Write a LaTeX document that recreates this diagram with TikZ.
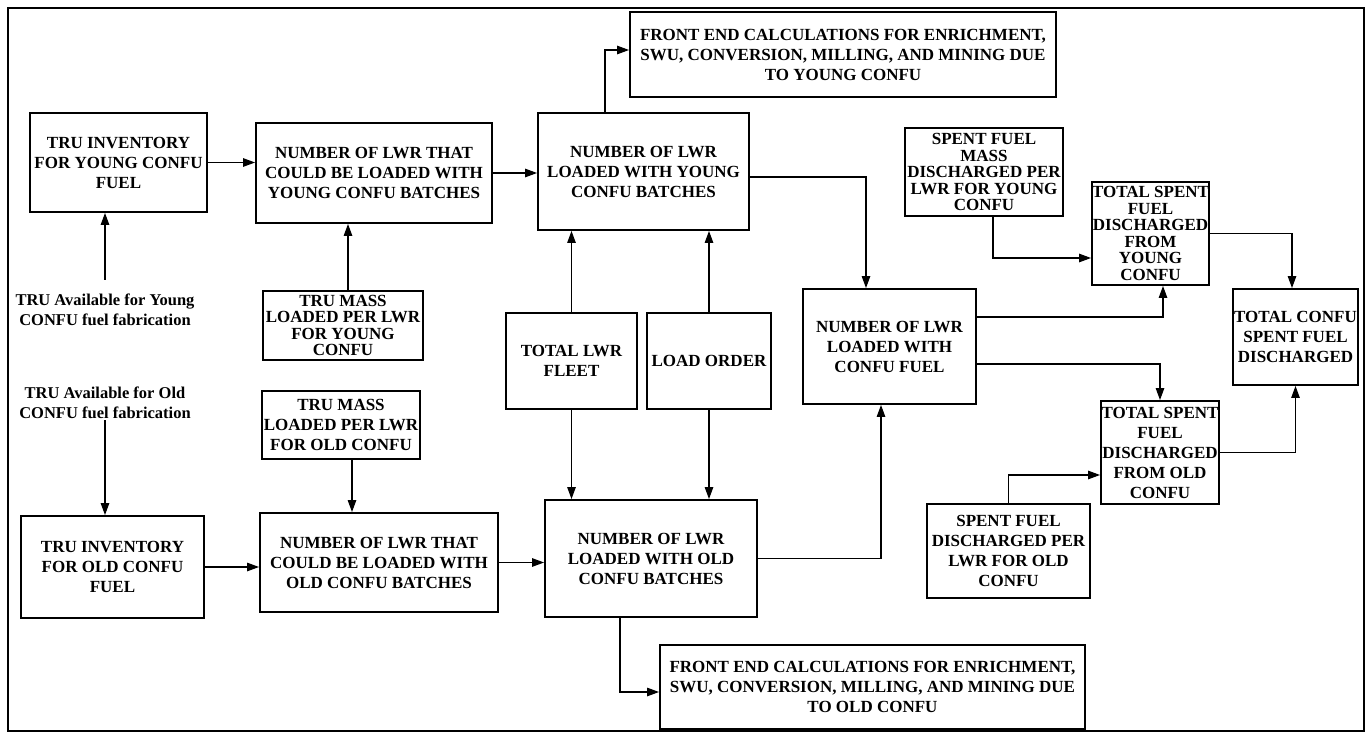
\documentclass[tikz,border=0pt]{standalone}
\usepackage{fontspec}
\setmainfont{Liberation Serif}
\usetikzlibrary{arrows.meta}
\begin{document}
\begin{tikzpicture}[x=1pt,y=-1pt,
  box/.style={draw, line width=1.9pt, inner xsep=-5pt, inner ysep=1pt, align=center,
    font=\fontsize{17}{20}\selectfont\bfseries},
  tight/.style={font=\fontsize{17}{16.5}\selectfont\bfseries},
  note/.style={inner sep=1pt, align=center, font=\fontsize{16.5}{20}\selectfont\bfseries},
  link/.style={line width=1.2pt, -{Triangle[length=12pt,width=8.5pt]}}]
\useasboundingbox (0,0) rectangle (1371,738);
\draw[line width=1.9pt] (8,8) rectangle (1364,731);

% young CONFU chain
\node[box, minimum width=426pt, minimum height=85pt] (FE1) at (843,54.5)
  {FRONT END CALCULATIONS FOR ENRICHMENT,\\SWU, CONVERSION, MILLING, AND MINING DUE\\TO YOUNG CONFU};
\node[box, minimum width=177pt, minimum height=99pt] (A1) at (118.5,162.5)
  {TRU INVENTORY\\FOR YOUNG CONFU\\FUEL};
\node[box, minimum width=236pt, minimum height=100pt] (B1) at (374,173)
  {NUMBER OF LWR THAT\\COULD BE LOADED WITH\\YOUNG CONFU BATCHES};
\node[box, minimum width=211pt, minimum height=117pt] (C1) at (643.5,171.5)
  {NUMBER OF LWR\\LOADED WITH YOUNG\\CONFU BATCHES};
\node[box, tight, minimum width=160pt, minimum height=69pt] (TM1) at (343,325.5)
  {TRU MASS\\LOADED PER LWR\\FOR YOUNG\\CONFU};
\node[note] (TY) at (105,310) {TRU Available for Young\\CONFU fuel fabrication};

% shared inputs
\node[box, minimum width=131pt, minimum height=96pt] (FL) at (571.5,361) {TOTAL LWR\\FLEET};
\node[box, minimum width=124pt, minimum height=96pt] (LO) at (709,361) {LOAD ORDER};
\node[box, minimum width=173pt, minimum height=115pt] (D) at (889.5,346.5)
  {NUMBER OF LWR\\LOADED WITH\\CONFU FUEL};

% spent fuel
\node[box, tight, minimum width=158pt, minimum height=88pt] (SF1) at (984,172)
  {SPENT FUEL\\MASS\\DISCHARGED PER\\LWR FOR YOUNG\\CONFU};
\node[box, tight, minimum width=117pt, minimum height=103pt] (TS1) at (1150.5,233.5)
  {TOTAL SPENT\\FUEL\\DISCHARGED\\FROM\\YOUNG\\CONFU};
\node[box, minimum width=125pt, minimum height=96pt] (TC) at (1295.5,337)
  {TOTAL CONFU\\SPENT FUEL\\DISCHARGED};
\node[box, minimum width=118pt, minimum height=103pt] (TS2) at (1160,452.5)
  {TOTAL SPENT\\FUEL\\DISCHARGED\\FROM OLD\\CONFU};
\node[box, minimum width=163pt, minimum height=94pt] (SF2) at (1008.5,551)
  {SPENT FUEL\\DISCHARGED PER\\LWR FOR OLD\\CONFU};

% old CONFU chain
\node[note] (TO) at (105,403) {TRU Available for Old\\CONFU fuel fabrication};
\node[box, minimum width=158pt, minimum height=68pt] (TM2) at (341,425)
  {TRU MASS\\LOADED PER LWR\\FOR OLD CONFU};
\node[box, minimum width=183pt, minimum height=102pt] (A2) at (112.5,567)
  {TRU INVENTORY\\FOR OLD CONFU\\FUEL};
\node[box, minimum width=238pt, minimum height=99pt] (B2) at (379,562.5)
  {NUMBER OF LWR THAT\\COULD BE LOADED WITH\\OLD CONFU BATCHES};
\node[box, minimum width=212pt, minimum height=117pt] (C2) at (651,558.5)
  {NUMBER OF LWR\\LOADED WITH OLD\\CONFU BATCHES};
\node[box, minimum width=425pt, minimum height=84pt] (FE2) at (872.5,687)
  {FRONT END CALCULATIONS FOR ENRICHMENT,\\SWU, CONVERSION, MILLING, AND MINING DUE\\TO OLD CONFU};

% connectors
\draw[link] ([yshift=13pt]TY.north) -- (TY.north |- A1.south);
\draw[link] (A1.east) -- (A1.east -| B1.west);
\draw[link] (B1.east) -- (B1.east -| C1.west);
\draw[link] ([xshift=-38.5pt]C1.north) |- ([yshift=4.5pt]FE1.west);
\draw[link] ([xshift=5pt]TM1.north) -- ([xshift=5pt]TM1.north |- B1.south);
\draw[link] (FL.north) -- (FL.north |- C1.south);
\draw[link] (LO.north) -- (LO.north |- C1.south);
\draw[link] (FL.south) -- (FL.south |- C2.north);
\draw[link] (LO.south) -- (LO.south |- C2.north);
\draw[link] ([yshift=-5.5pt]C1.east) -| ([xshift=-23.5pt]D.north);
\draw[link] (C2.east) -| ([xshift=-8.5pt]D.south);
\draw[link] ([yshift=29.5pt]D.east) -| ([xshift=12.5pt]TS1.south);
\draw[link] ([yshift=-17.5pt]D.east) -| (TS2.north);
\draw[link] ([xshift=9pt]SF1.south) |- ([yshift=-24.5pt]TS1.west);
\draw[link] (SF2.north) |- ([yshift=-22.5pt]TS2.west);
\draw[link] (TS1.east) -| ([xshift=-3.5pt]TC.north);
\draw[link] (TS2.east) -| (TC.south);
\draw[link] (TO.south) -- (TO.south |- A2.north);
\draw[link] ([xshift=11pt]TM2.south) -- ([xshift=11pt]TM2.south |- B2.north);
\draw[link] (A2.east) -- (A2.east -| B2.west);
\draw[link] (B2.east) -- (B2.east -| C2.west);
\draw[link] ([xshift=-31pt]C2.south) |- ([yshift=-5pt]FE2.west);
\end{tikzpicture}
\end{document}
